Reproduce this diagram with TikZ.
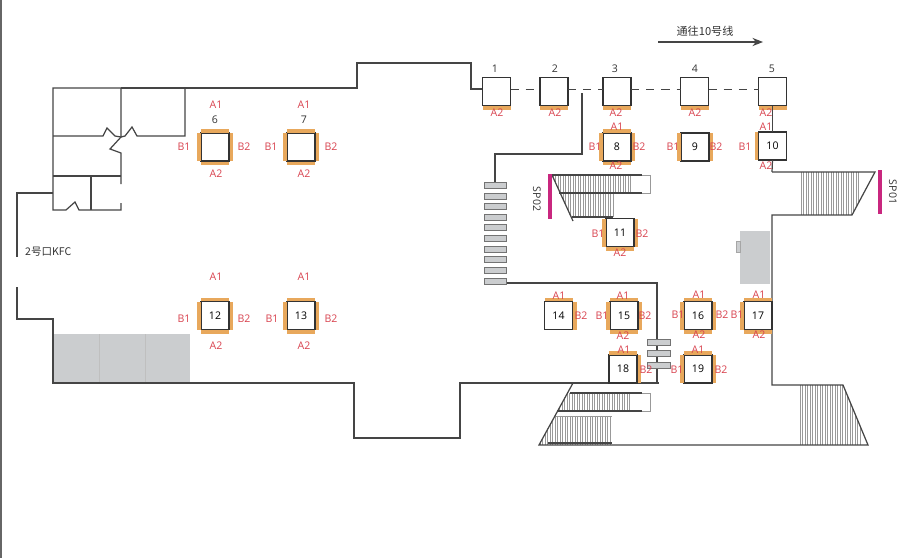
\documentclass[tikz,border=0pt]{standalone}
\usepackage{fontspec}
\usetikzlibrary{arrows.meta}
\setmainfont{Open Sans}
\newfontfamily\cjk{Noto Sans CJK SC}
\definecolor{wallcol}{HTML}{454545}
\definecolor{barcol}{HTML}{E8A85C}
\definecolor{facecol}{HTML}{D8434F}
\definecolor{stepcol}{HTML}{CBCDCF}
\definecolor{spcol}{HTML}{C9277F}
\tikzset{
  wall/.style={draw=wallcol,line width=1.05pt},
  kiosk/.style={draw=black!80,line width=1.05pt,fill=white,minimum size=0.84cm,inner sep=0pt,outer sep=0pt,font=\fontsize{9}{10}\selectfont},
  face/.style={text=facecol,inner sep=0pt,font=\fontsize{9}{10}\selectfont},
  tag/.style={text=black!80,inner sep=0pt,font=\fontsize{9}{10}\selectfont},
  facebar/.style={fill=barcol},
  stair/.style={draw=black!40,line width=0.35pt},
  rail/.style={draw=wallcol,line width=1.5pt},
  steprow/.style={fill=stepcol,draw=black!55,line width=0.4pt},
  dashline/.style={draw=wallcol,line width=1.1pt,dash pattern=on 7pt off 6pt}
}
\begin{document}
\begin{tikzpicture}[x=0.03cm,y=-0.03cm]
      \useasboundingbox (0,0) rectangle (900,558);
      \draw[black!60,line width=1pt] (1,0) -- (1,558);
      % grey blocks
      \fill[stepcol] (53,334) rectangle (190,383);
      \draw[black!25,line width=0.4pt] (99,334) -- (99,383) (145,334) -- (145,383);
      \fill[stepcol] (740,231) rectangle (770,284);
      \fill[stepcol,draw=black!35,line width=0.3pt] (736,241) rectangle (740,252);
      % stairs
      \begin{scope}
        \clip (552,175) -- (650,175) -- (650,221) -- (573,221) -- cycle;
        \foreach \x in {553,555.5,...,632} \draw[stair] (\x,175) -- (\x,193);
        \foreach \x in {553,555.5,...,613} \draw[stair] (\x,193) -- (\x,217);
      \end{scope}
      \begin{scope}
        \clip (772,172) -- (875,172) -- (852,215) -- (772,215) -- cycle;
        \foreach \x in {801,803.5,...,860} \draw[stair] (\x,172) -- (\x,215);
      \end{scope}
      \begin{scope}
        \clip (573,383) -- (650,383) -- (650,445) -- (539,445) -- cycle;
        \foreach \x in {557,559.5,...,631} \draw[stair] (\x,393) -- (\x,411);
        \foreach \x in {540,542.5,...,612} \draw[stair] (\x,416) -- (\x,445);
      \end{scope}
      \begin{scope}
        \clip (772,385) -- (843,385) -- (868,445) -- (772,445) -- cycle;
        \foreach \x in {800,802.5,...,860} \draw[stair] (\x,385) -- (\x,445);
      \end{scope}
      \draw[rail] (552,175) -- (642,175);
      \draw[rail] (559,193) -- (642,193);
      \draw[rail] (572,217) -- (613,217);
      \draw[black!40,line width=0.5pt] (642,175) -- (650,175) -- (650,193) -- (642,193);
      \draw[wall] (552,175) -- (573,221);
      \draw[rail] (570,393) -- (642,393);
      \draw[rail] (557,411) -- (642,411);
      \draw[rail] (548,443) -- (612,443);
      \draw[black!40,line width=0.5pt] (642,393) -- (650,393) -- (650,411) -- (642,411);
      \draw[black!40,line width=0.5pt] (555,416) -- (612,416);
      % walls
      \draw[wall] (121,88) -- (53,88) -- (53,210) -- (66,210) -- (75,202) -- (79,210) -- (121,210) -- (121,203);
      \draw[wall] (121,88) -- (357,88) -- (357,63) -- (471,63) -- (471,89) -- (482,89);
      \draw[wall] (185,88) -- (185,136) -- (137,136) -- (132,127) -- (125,136) -- (121,137);
      \draw[wall] (53,136) -- (103,136) -- (107,128) -- (115,136) -- (121,137);
      \draw[wall] (121,88) -- (121,137) -- (110,149) -- (121,153) -- (121,184);
      \draw[wall] (53,176) -- (121,176);
      \draw[wall] (91,176) -- (91,210);
      \draw[wall] (53,193) -- (17,193) -- (17,257);
      \draw[wall] (17,287) -- (17,319) -- (53,319) -- (53,383) -- (354,383) -- (354,438) -- (460,438) -- (460,383) -- (659,383);
      \draw[wall] (657,383) -- (657,283) -- (490,283);
      \draw[wall] (495,182) -- (495,154) -- (582,154) -- (582,93);
      \draw[wall] (772,172) -- (875,172) -- (852,215) -- (772,215) -- (772,385) -- (843,385) -- (868,445) -- (539,445) -- (573,383);
      % gates
      \foreach \y in {185,196,206,217,227,238,249,259,270,281}
        \draw[steprow] (484,\y-3) rectangle (506,\y+3);
      \foreach \y in {342,353,365}
        \draw[steprow] (647,\y-3) rectangle (670,\y+3);
      % boxes
      \draw
        (496.5,91.5) node[kiosk] (k1){}
        (554,91.5) node[kiosk] (k2){}
        (617,91.5) node[kiosk] (k3){}
        (694.5,91.5) node[kiosk] (k4){}
        (772.5,91.5) node[kiosk] (k5){}
        (215,147) node[kiosk] (k6){}
        (301,147) node[kiosk] (k7){}
        (617,147) node[kiosk] (k8){8}
        (695,147) node[kiosk] (k9){9}
        (772.5,146) node[kiosk] (k10){10}
        (620,232.5) node[kiosk] (k11){11}
        (215,315.5) node[kiosk] (k12){12}
        (301,315.5) node[kiosk] (k13){13}
        (558.5,315.5) node[kiosk] (k14){14}
        (624,315.5) node[kiosk] (k15){15}
        (698,315.5) node[kiosk] (k16){16}
        (758,315.5) node[kiosk] (k17){17}
        (623,369) node[kiosk] (k18){18}
        (698,369) node[kiosk] (k19){19};
      \foreach \n in {k6,k7,k8,k12,k13,k14,k15,k16,k17,k18,k19}
        \fill[facebar] ([yshift=0.015cm]\n.north west) rectangle ([yshift=0.12cm]\n.north east);
      \foreach \n in {k1,k2,k3,k4,k5,k6,k7,k8,k11,k12,k13,k15,k16,k17}
        \fill[facebar] ([yshift=-0.015cm]\n.south west) rectangle ([yshift=-0.12cm]\n.south east);
      \foreach \n in {k6,k7,k8,k9,k10,k11,k12,k13,k15,k16,k17,k19}
        \fill[facebar] ([xshift=-0.015cm]\n.south west) rectangle ([xshift=-0.12cm]\n.north west);
      \foreach \n in {k6,k7,k8,k9,k11,k12,k13,k14,k15,k16,k18,k19}
        \fill[facebar] ([xshift=0.015cm]\n.south east) rectangle ([xshift=0.12cm]\n.north east);
      % links between boxes
      \draw[dashline] ([yshift=0.07cm]k1.east) -- ([yshift=0.07cm]k2.west);
      \draw[dashline] ([yshift=0.07cm]k2.east) -- ([yshift=0.07cm]k3.west);
      \draw[dashline] ([yshift=0.07cm]k3.east) -- ([yshift=0.07cm]k4.west);
      \draw[dashline] ([yshift=0.07cm]k4.east) -- ([yshift=0.07cm]k5.west);
      \draw[wall] (k5.south) -- (k10.north);
      \draw[wall] (k10.south) -- (772,172);
      % box numbers
      \draw
        (495,69) node[tag] (n1){1}
        (555,69) node[tag] (n2){2}
        (615,69) node[tag] (n3){3}
        (695,69) node[tag] (n4){4}
        (772,69) node[tag] (n5){5}
        (215,120) node[tag] (n6){6}
        (304,120) node[tag] (n7){7};
      % face labels
      \draw
        (497,113) node[face] (a1){A2}
        (555,113) node[face] (a2){A2}
        (616,113) node[face] (a3){A2}
        (695,113) node[face] (a4){A2}
        (766,113) node[face] (a5){A2}
        (216,105) node[face] (t6){A1}
        (184,147) node[face] (l6){B1}
        (244,147) node[face] (r6){B2}
        (216,174) node[face] (b6){A2}
        (304,105) node[face] (t7){A1}
        (271,147) node[face] (l7){B1}
        (331,147) node[face] (r7){B2}
        (304,174) node[face] (b7){A2}
        (617,127) node[face] (t8){A1}
        (595,147) node[face] (l8){B1}
        (639,147) node[face] (r8){B2}
        (616,166) node[face] (b8){A2}
        (673,147) node[face] (l9){B1}
        (716,147) node[face] (r9){B2}
        (766,127) node[face] (t10){A1}
        (745,147) node[face] (l10){B1}
        (766,166) node[face] (b10){A2}
        (598,234) node[face] (l11){B1}
        (642,234) node[face] (r11){B2}
        (620,253) node[face] (b11){A2}
        (216,277) node[face] (t12){A1}
        (184,319) node[face] (l12){B1}
        (244,319) node[face] (r12){B2}
        (216,346) node[face] (b12){A2}
        (304,277) node[face] (t13){A1}
        (272,319) node[face] (l13){B1}
        (331,319) node[face] (r13){B2}
        (304,346) node[face] (b13){A2}
        (559,296) node[face] (t14){A1}
        (581,316) node[face] (r14){B2}
        (623,296) node[face] (t15){A1}
        (602,316) node[face] (l15){B1}
        (645,316) node[face] (r15){B2}
        (623,336) node[face] (b15){A2}
        (699,295) node[face] (t16){A1}
        (678,315) node[face] (l16){B1}
        (722,315) node[face] (r16){B2}
        (699,335) node[face] (b16){A2}
        (759,295) node[face] (t17){A1}
        (737,315) node[face] (l17){B1}
        (759,335) node[face] (b17){A2}
        (624,350) node[face] (t18){A1}
        (646,370) node[face] (r18){B2}
        (698,350) node[face] (t19){A1}
        (677,370) node[face] (l19){B1}
        (721,370) node[face] (r19){B2};
      % signs
      \fill[spcol] (547.5,174) rectangle (551.5,219);
      \fill[spcol] (877.5,170) rectangle (881.5,214);
      \node[tag,rotate=-90] (sp2) at (537,199) {SP02};
      \node[tag,rotate=-90] (sp1) at (893,192) {SP01};
      \node[tag,anchor=west] (kfc) at (25,252) {\cjk 2号口KFC};
      \node[tag,font=\fontsize{9.5}{10}\selectfont] (line10) at (705,31) {\cjk 通往10号线};
      \coordinate (dirfrom) at (658,42);
      \coordinate (dirto) at (763,42);
      \draw[wallcol,line width=0.9pt,-{Stealth[length=9pt,width=7pt]}] (dirfrom) -- (dirto);
    \end{tikzpicture}
\end{document}
